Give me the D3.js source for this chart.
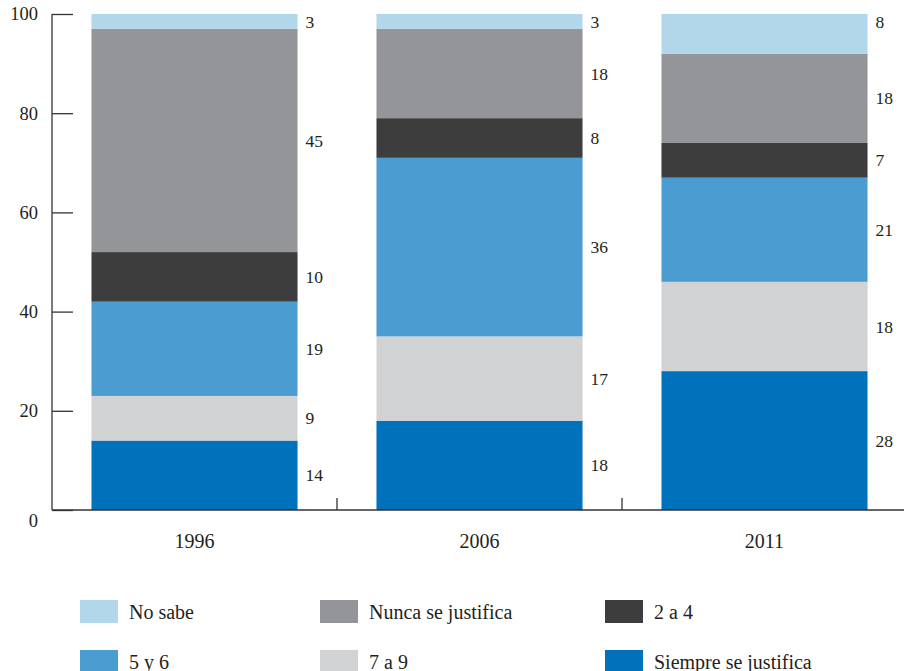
<!DOCTYPE html>
<html><head><meta charset="utf-8">
<script src="https://cdn.jsdelivr.net/npm/d3@7"></script>
<style>body{margin:0;background:#fff}svg{display:block}svg text{font-family:"Liberation Serif","Times New Roman",serif !important;fill:#231f20}</style>
</head><body><svg id="c" width="904" height="671"></svg>
<script>
const years = ["1996", "2006", "2011"];
const seriesNames = ["Siempre se justifica", "7 a 9", "5 y 6", "2 a 4", "Nunca se justifica", "No sabe"];
const siempre = [14, 18, 28];
const sieteNueve = [9, 17, 18];
const cincoSeis = [19, 36, 21];
const dosCuatro = [10, 8, 7];
const nunca = [45, 18, 18];
const noSabe = [3, 3, 8];
const yTicks = [0, 20, 40, 60, 80, 100];
const legendOrder = ["No sabe", "Nunca se justifica", "2 a 4", "5 y 6", "7 a 9", "Siempre se justifica"];

const colors = {"Siempre se justifica":"#0072bb","7 a 9":"#d1d2d4","5 y 6":"#4b9dd1","2 a 4":"#3d3d3e","Nunca se justifica":"#939598","No sabe":"#b2d6ea"};
const values = [siempre, sieteNueve, cincoSeis, dosCuatro, nunca, noSabe];
const rows = years.map((yr, i) => { const o = {year: yr}; seriesNames.forEach((s, k) => o[s] = values[k][i]); return o; });
const stack = d3.stack().keys(seriesNames)(rows);

const svg = d3.select("#c");
const x = d3.scaleBand().domain(years).range([52, 907]).paddingInner(0.277).paddingOuter(0.1385);
const y = d3.scaleLinear().domain([0, 100]).range([510, 14]);

// bars
stack.forEach((layer, k) => {
  svg.append("g").attr("fill", colors[layer.key]).selectAll("rect").data(layer).join("rect")
    .attr("x", d => x(d.data.year)).attr("width", x.bandwidth())
    .attr("y", d => y(d[1])).attr("height", d => y(d[0]) - y(d[1]));
  const isTop = k === stack.length - 1;
  svg.append("g").selectAll("text").data(layer).join("text")
    .attr("x", d => x(d.data.year) + x.bandwidth() + 8)
    .attr("y", d => isTop ? y(100 - 1.5) : y((d[0] + d[1]) / 2))
    .attr("dy", "0.35em").attr("font-size", 17.5)
    .text(d => d[1] - d[0]);
});

// y axis
const ya = svg.append("g").attr("transform", "translate(52,0)")
  .call(d3.axisLeft(y).tickValues(yTicks).tickSize(-21).tickSizeOuter(0).tickPadding(14));
ya.select(".domain").remove();
ya.selectAll("line").attr("stroke", "#333").attr("stroke-width", 1.3);
ya.selectAll("text").attr("font-size", 18.5).attr("fill", "#231f20");
ya.selectAll(".tick").filter(d => d === 0).select("text").attr("dy", "0.9em");
svg.append("line").attr("x1", 52).attr("x2", 52).attr("y1", y(100)).attr("y2", y(0)).attr("stroke", "#333").attr("stroke-width", 1.3);

// x axis
svg.append("line").attr("x1", 52).attr("x2", 904).attr("y1", y(0)).attr("y2", y(0)).attr("stroke", "#333").attr("stroke-width", 1.3);
const step = x.step();
const bounds = years.slice(1).map(yr => x(yr) - (step - x.bandwidth()) / 2);
svg.append("g").selectAll("line").data(bounds).join("line")
  .attr("x1", d => d).attr("x2", d => d).attr("y1", y(0)).attr("y2", y(0) - 12)
  .attr("stroke", "#333").attr("stroke-width", 1.3);
svg.append("g").selectAll("text").data(years).join("text")
  .attr("x", d => x(d) + x.bandwidth() / 2).attr("y", 548).attr("text-anchor", "middle")
  .attr("font-size", 20).text(d => d);

// legend
const colX = [80, 320, 605];
const rowY = [600, 650];
const lg = svg.append("g").selectAll("g").data(legendOrder).join("g")
  .attr("transform", (d, i) => `translate(${colX[i % 3]},${rowY[Math.floor(i / 3)]})`);
lg.append("rect").attr("width", 38).attr("height", 23).attr("fill", d => colors[d]);
lg.append("text").attr("x", 49).attr("y", 11.5).attr("dy", "0.35em").attr("font-size", 20).text(d => d);
</script></body></html>
